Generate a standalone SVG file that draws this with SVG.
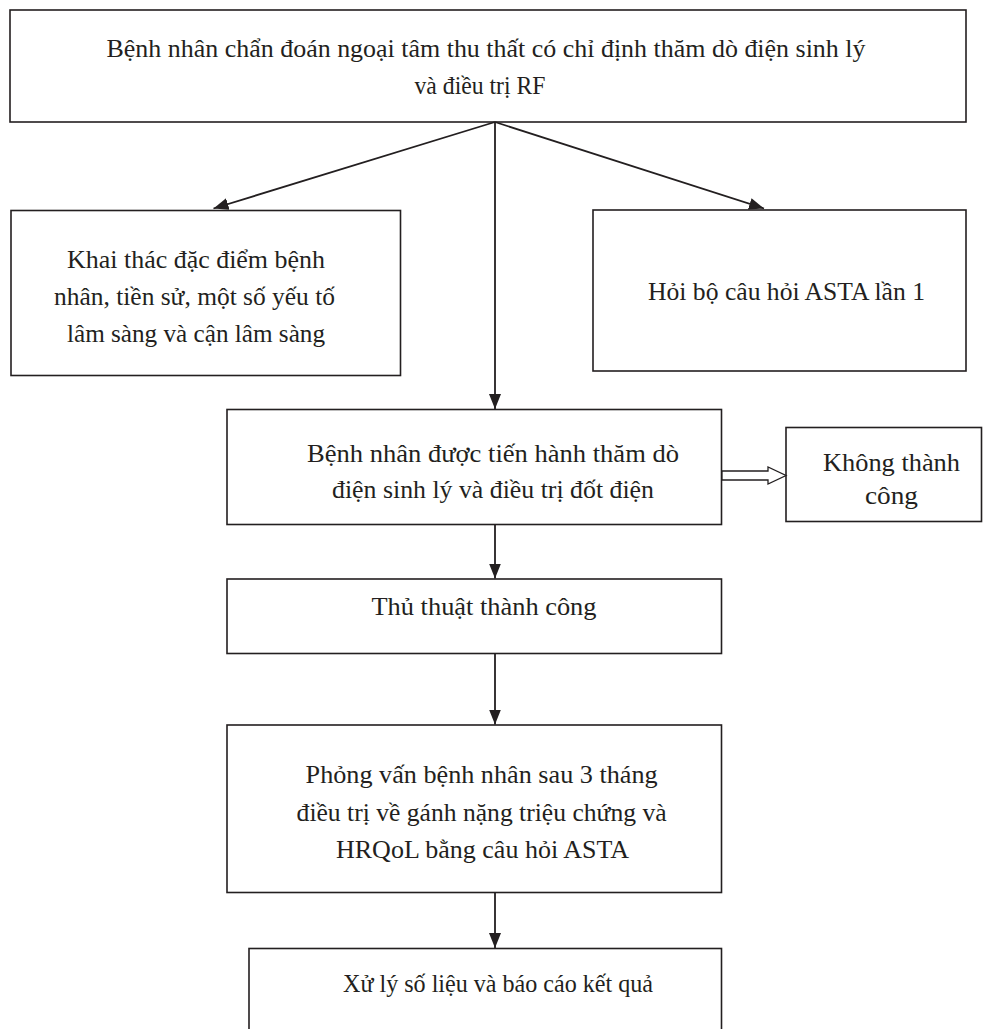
<svg xmlns="http://www.w3.org/2000/svg" width="983" height="1029" viewBox="0 0 983 1029">
<style>
.box{fill:#fff;stroke:#231f20;stroke-width:1.6}
.t{font-family:"Liberation Serif","Times New Roman",serif;font-size:26px;fill:#231f20;text-anchor:middle}
.ln{fill:none;stroke:#231f20;stroke-width:1.8}
</style>
<defs>
<marker id="ah" markerUnits="userSpaceOnUse" markerWidth="16" markerHeight="14" refX="15" refY="6" orient="auto">
<path d="M0,0 L15,6 L0,12 Z" fill="#231f20"/>
</marker>
</defs>
<rect width="983" height="1029" fill="#fff"/>
<g id="n-top">
<rect class="box" x="10" y="10" width="956" height="112"/>
<text class="t" x="486" y="57" textLength="759" lengthAdjust="spacingAndGlyphs">Bệnh nhân chẩn đoán ngoại tâm thu thất có chỉ định thăm dò điện sinh lý</text>
<text class="t" x="480" y="94" textLength="131" lengthAdjust="spacingAndGlyphs">và điều trị RF</text>
</g>
<g id="n-left">
<rect class="box" x="11" y="210.5" width="389.5" height="165"/>
<text class="t" x="196" y="268" textLength="258" lengthAdjust="spacingAndGlyphs">Khai thác đặc điểm bệnh</text>
<text class="t" x="194.5" y="305" textLength="281" lengthAdjust="spacingAndGlyphs">nhân, tiền sử, một số yếu tố</text>
<text class="t" x="196" y="342" textLength="258" lengthAdjust="spacingAndGlyphs">lâm sàng và cận lâm sàng</text>
</g>
<g id="n-right">
<rect class="box" x="593" y="210" width="373" height="161"/>
<text class="t" x="786.5" y="300" textLength="277" lengthAdjust="spacingAndGlyphs">Hỏi bộ câu hỏi ASTA lần 1</text>
</g>
<g id="n-mid">
<rect class="box" x="227" y="409.5" width="494.5" height="115"/>
<text class="t" x="493" y="462" textLength="372" lengthAdjust="spacingAndGlyphs">Bệnh nhân được tiến hành thăm dò</text>
<text class="t" x="493" y="498" textLength="322" lengthAdjust="spacingAndGlyphs">điện sinh lý và điều trị đốt điện</text>
</g>
<g id="n-fail">
<rect class="box" x="786" y="427.5" width="195.5" height="94"/>
<text class="t" x="891.5" y="471" textLength="137" lengthAdjust="spacingAndGlyphs">Không thành</text>
<text class="t" x="891.5" y="504" textLength="53" lengthAdjust="spacingAndGlyphs">công</text>
</g>
<g id="n-success">
<rect class="box" x="227" y="579" width="494.5" height="74.5"/>
<text class="t" x="484" y="615" textLength="225" lengthAdjust="spacingAndGlyphs">Thủ thuật thành công</text>
</g>
<g id="n-interview">
<rect class="box" x="227" y="725" width="494.5" height="167.5"/>
<text class="t" x="481.6" y="783" textLength="352" lengthAdjust="spacingAndGlyphs">Phỏng vấn bệnh nhân sau 3 tháng</text>
<text class="t" x="481.6" y="821" textLength="370" lengthAdjust="spacingAndGlyphs">điều trị về gánh nặng triệu chứng và</text>
<text class="t" x="482.5" y="858" textLength="293" lengthAdjust="spacingAndGlyphs">HRQoL bằng câu hỏi ASTA</text>
</g>
<g id="n-report">
<rect class="box" x="249" y="948.5" width="472.5" height="100"/>
<text class="t" x="498" y="992" textLength="310" lengthAdjust="spacingAndGlyphs">Xử lý số liệu và báo cáo kết quả</text>
</g>
<g id="connectors">
<line class="ln" x1="495" y1="122" x2="213.5" y2="208.5" marker-end="url(#ah)"/>
<line class="ln" x1="495" y1="122" x2="764" y2="208.5" marker-end="url(#ah)"/>
<line class="ln" x1="495" y1="122" x2="495" y2="409" marker-end="url(#ah)"/>
<line class="ln" x1="495" y1="524.5" x2="495" y2="578.5" marker-end="url(#ah)"/>
<line class="ln" x1="495" y1="653.5" x2="495" y2="724.5" marker-end="url(#ah)"/>
<line class="ln" x1="495" y1="892.5" x2="495" y2="948" marker-end="url(#ah)"/>
<polygon points="722,471 768,471 768,467 786,475.5 768,484 768,480 722,480" fill="#fff" stroke="#231f20" stroke-width="1.3"/>
</g>
</svg>
